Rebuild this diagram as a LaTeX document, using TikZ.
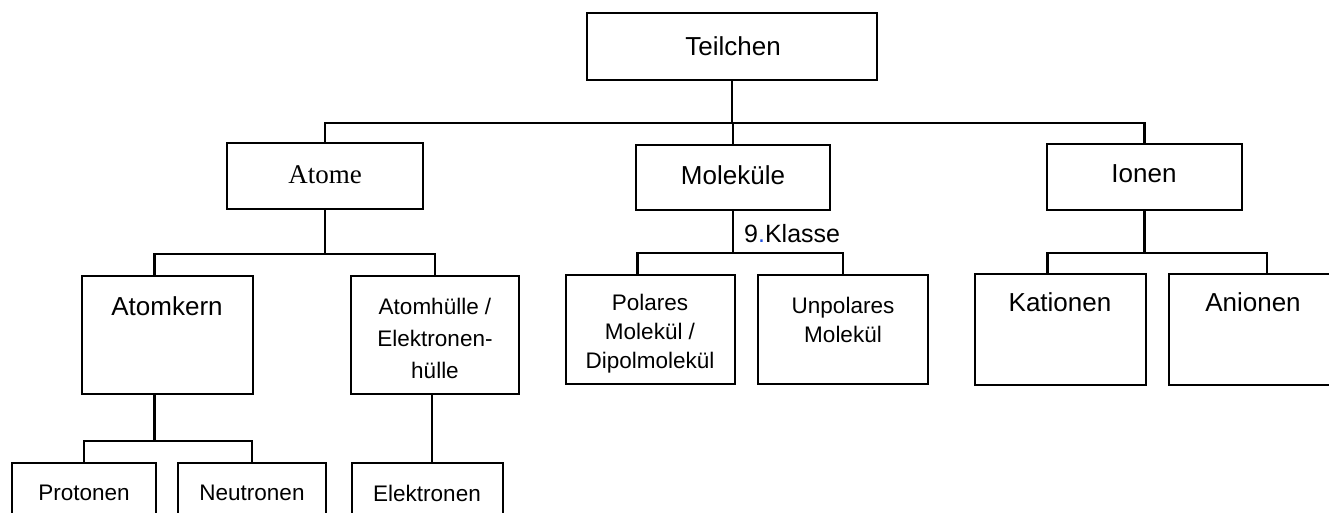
\documentclass[tikz,border=0pt]{standalone}
\usepackage{fontspec}
\setmainfont{Liberation Sans}
\newfontfamily\serifx{Liberation Serif}
\definecolor{dotblue}{HTML}{1F4FE0}
\newcommand\mybox[5]{\node[box, minimum width={(#4)-(#2)}, minimum height={(#5)-(#3)}] (#1) at ({((#2)+(#4))/2},{((#3)+(#5))/2}) {};}
\begin{document}
\begin{tikzpicture}[x=1pt,y=-1pt,
  box/.style={draw, line width=2.2pt, inner sep=0pt},
  conn/.style={line width=2.2pt},
  big/.style={inner sep=0pt, align=center, font=\fontsize{26}{30}\selectfont},
  small/.style={inner sep=0pt, align=center, font=\fontsize{22.5}{32}\selectfont}]
\useasboundingbox (0,0) rectangle (1329,512);
\fill[white] (0,0) rectangle (1329,512);
% boxes
\mybox{T}{587}{13}{877}{80}
\mybox{A}{227}{143}{423}{209}
\mybox{M}{636}{145}{830}{210}
\mybox{I}{1047}{144}{1242}{210}
\mybox{AK}{82}{276}{253}{394}
\mybox{AH}{351}{276}{519}{394}
\mybox{P}{12}{463}{156}{540}
\mybox{N}{178}{463}{326}{540}
\mybox{E}{352}{463}{503}{540}
\mybox{PM}{566}{275}{735}{384}
\mybox{UM}{758}{275}{928}{384}
\mybox{K}{975}{274}{1146}{385}
\mybox{AN}{1169}{274}{1345}{385}
% labels
\node[big] (tT) at (733,46) {Teilchen};
\node[big, font=\serifx\fontsize{27}{30}\selectfont] (tA) at (325,175) {Atome};
\node[big] (tM) at (733,175) {Moleküle};
\node[big] (tI) at (1144,174) {Ionen};
\node[big] (tAK) at (167,306) {Atomkern};
\node[small] (tAH) at (435,338) {Atomhülle /\\Elektronen-\\hülle};
\node[small, font=\fontsize{22.5}{29}\selectfont] (tPM) at (650,334) {Polares\\Molekül /\\Dipolmolekül};
\node[small, font=\fontsize{22.5}{29}\selectfont] (tUM) at (843,320) {Unpolares\\Molekül};
\node[big] (tK) at (1060,302) {Kationen};
\node[big] (tAN) at (1253,302) {Anionen};
\node[small] (tP) at (84,493) {Protonen};
\node[small] (tN) at (252,493) {Neutronen};
\node[small] (tE) at (427,493) {Elektronen};
\node[big, anchor=west, font=\fontsize{25}{30}\selectfont] (kl) at (744,234) {9{\color{dotblue}.}Klasse};
% buses
\coordinate (b0) at (0,123);
\coordinate (b1) at (0,254);
\coordinate (b2) at (0,253);
\coordinate (b3) at (0,441);
% connectors
\draw[conn] (T.south) -- (T.south |- b0);
\draw[conn] (A.north) -- (A.north |- b0) -- (I.north |- b0) -- (I.north);
\draw[conn] (M.north) -- (M.north |- b0);
\draw[conn] (A.south) -- (A.south |- b1);
\draw[conn] ([xshift=-13pt]AK.north) -- ([xshift=-13pt]AK.north |- b1) -- (AH.north |- b1) -- (AH.north);
\draw[conn] ([xshift=-13pt]AK.south) -- ([xshift=-13pt]AK.south |- b3);
\draw[conn] (P.north) -- (P.north |- b3) -- (N.north |- b3) -- (N.north);
\draw[conn] ([xshift=-3pt]AH.south) -- ([xshift=-3pt]AH.south |- E.north);
\draw[conn] (M.south) -- (M.south |- b2);
\draw[conn] ([xshift=-13pt]PM.north) -- ([xshift=-13pt]PM.north |- b2) -- (UM.north |- b2) -- (UM.north);
\draw[conn] (I.south) -- (I.south |- b2);
\draw[conn] ([xshift=-13pt]K.north) -- ([xshift=-13pt]K.north |- b2) -- ([xshift=10pt]AN.north |- b2) -- ++(0,21);
\end{tikzpicture}
\end{document}
